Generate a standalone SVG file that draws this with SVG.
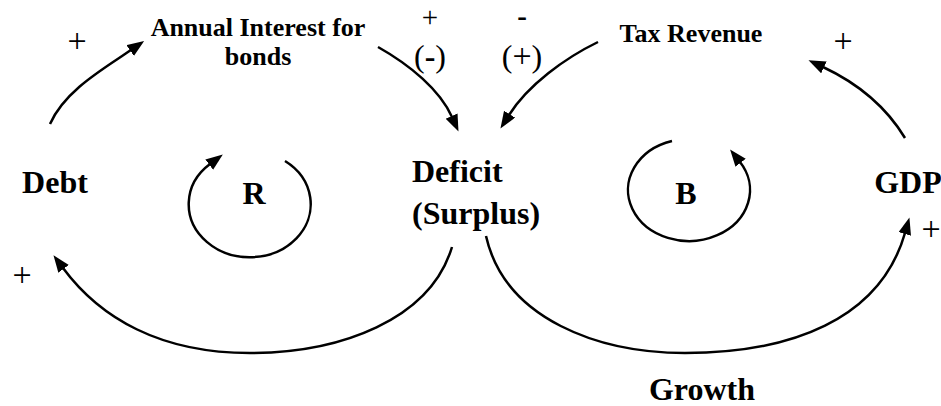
<svg xmlns="http://www.w3.org/2000/svg" width="941" height="406" viewBox="0 0 941 406">
<style>
.n{font-family:"Liberation Serif","Times New Roman",serif;font-weight:bold;font-size:32px;fill:#000}
.s{font-family:"Liberation Serif","Times New Roman",serif;font-weight:bold;font-size:26px;fill:#000}
.p{font-family:"Liberation Serif","Times New Roman",serif;font-size:34px;fill:#000}
.q{font-family:"Liberation Serif","Times New Roman",serif;font-size:32px;fill:#000}
.t{font-family:"Liberation Serif","Times New Roman",serif;font-size:29px;fill:#000}
.c{fill:none;stroke:#000;stroke-width:2.5}
</style>
<defs>
<marker id="ah" markerUnits="userSpaceOnUse" markerWidth="18" markerHeight="14" refX="1" refY="6.5" orient="auto">
<path d="M0,0 L17,6.5 L0,13 z" fill="#000"/>
</marker>
</defs>
<rect width="941" height="406" fill="#fff"/>
<g id="connectors">
<path class="c" d="M50,124 C65,90 105,68 131,50" marker-end="url(#ah)"/>
<path class="c" d="M378,47 C410,65 440,90 452,117" marker-end="url(#ah)"/>
<path class="c" d="M598,42 C565,58 528,85 509,115" marker-end="url(#ah)"/>
<path class="c" d="M905,138 C885,105 855,82 823,67" marker-end="url(#ah)"/>
<path class="c" d="M452,247 C430,320 340,353 250,353 C160,353 100,318 63,268" marker-end="url(#ah)"/>
<path class="c" d="M486,236 C505,320 600,353 685,353 C790,353 880,320 905,233" marker-end="url(#ah)"/>
</g>
<g id="loop-R">
<path class="c" d="M285,161 A61,53 0 1 1 210,164" marker-end="url(#ah)"/>
<text class="n" x="254" y="204" text-anchor="middle">R</text>
</g>
<g id="loop-B">
<path class="c" d="M672,141 A61,51 0 1 0 740,162" marker-end="url(#ah)"/>
<text class="n" x="686" y="204" text-anchor="middle">B</text>
</g>
<g id="debt"><text class="n" x="55" y="193" text-anchor="middle">Debt</text></g>
<g id="annual-interest">
<text class="s" x="258" y="36" text-anchor="middle">Annual Interest for</text>
<text class="s" x="258" y="65" text-anchor="middle">bonds</text>
</g>
<g id="deficit">
<text class="n" x="412" y="182">Deficit</text>
<text class="n" x="412" y="224">(Surplus)</text>
</g>
<g id="tax-revenue"><text class="s" x="691" y="42" text-anchor="middle">Tax Revenue</text></g>
<g id="gdp"><text class="n" x="908" y="193" text-anchor="middle">GDP</text></g>
<g id="growth"><text class="n" x="702" y="400" text-anchor="middle" font-size="30">Growth</text></g>
<g id="polarities">
<text class="p" x="77" y="52" text-anchor="middle">+</text>
<text class="t" x="430" y="27" text-anchor="middle">+</text>
<text class="q" x="430" y="67" text-anchor="middle">(<tspan font-weight="bold">-</tspan>)</text>
<text class="t" x="522" y="26" text-anchor="middle" font-weight="bold">-</text>
<text class="q" x="522" y="67" text-anchor="middle">(<tspan font-size="34">+</tspan>)</text>
<text class="p" x="843" y="52" text-anchor="middle">+</text>
<text class="p" x="22" y="286" text-anchor="middle">+</text>
<text class="p" x="931" y="240" text-anchor="middle">+</text>
</g>
</svg>
